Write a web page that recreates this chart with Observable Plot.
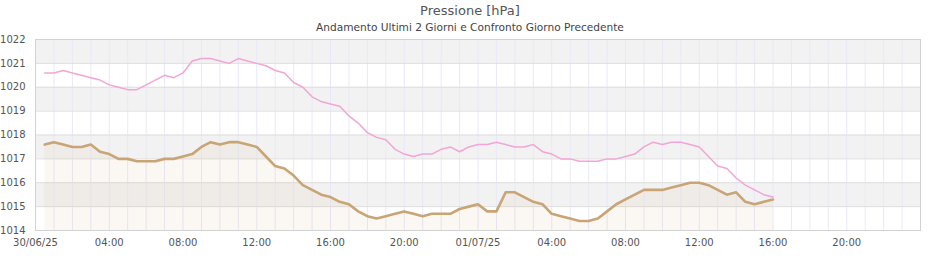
<!DOCTYPE html>
<html>
<head>
<meta charset="utf-8">
<script src="https://cdn.jsdelivr.net/npm/d3@7"></script>
<script src="https://cdn.jsdelivr.net/npm/@observablehq/plot@0.6"></script>
<style>
  html, body { margin: 0; padding: 0; background: #fff; }
  body { width: 940px; height: 260px; overflow: hidden; font-family: "DejaVu Sans", sans-serif; }
  #title { height: 18px; line-height: 21px; font-size: 13px; color: #555; text-align: center; }
  #subtitle { height: 16px; line-height: 18px; font-size: 10.6px; color: #444; text-align: center; }
  svg { display: block; }
</style>
</head>
<body>
<div id="title">Pressione [hPa]</div>
<div id="subtitle">Andamento Ultimi 2 Giorni e Confronto Giorno Precedente</div>
<div id="chart"></div>
<script>
// Time range: 30/06/25 00:00 -> 02/07/25 00:00 (UTC used as local clock)
const domainStart = new Date(Date.UTC(2025, 5, 30, 0, 0));
const domainEnd = new Date(Date.UTC(2025, 6, 2, 0, 0));
const firstSample = new Date(Date.UTC(2025, 5, 30, 0, 30));
const stepMinutes = 30;

// Pressure, last 2 days (hPa), every 30 min from 30/06 00:30 to 01/07 16:00
const pressure = [
  1017.6, 1017.7, 1017.6, 1017.5, 1017.5, 1017.6, 1017.3, 1017.2, 1017.0, 1017.0,
  1016.9, 1016.9, 1016.9, 1017.0, 1017.0, 1017.1, 1017.2, 1017.5, 1017.7, 1017.6,
  1017.7, 1017.7, 1017.6, 1017.5, 1017.1, 1016.7, 1016.6, 1016.3, 1015.9, 1015.7,
  1015.5, 1015.4, 1015.2, 1015.1, 1014.8, 1014.6, 1014.5, 1014.6, 1014.7, 1014.8,
  1014.7, 1014.6, 1014.7, 1014.7, 1014.7, 1014.9, 1015.0, 1015.1, 1014.8, 1014.8,
  1015.6, 1015.6, 1015.4, 1015.2, 1015.1, 1014.7, 1014.6, 1014.5, 1014.4, 1014.4,
  1014.5, 1014.8, 1015.1, 1015.3, 1015.5, 1015.7, 1015.7, 1015.7, 1015.8, 1015.9,
  1016.0, 1016.0, 1015.9, 1015.7, 1015.5, 1015.6, 1015.2, 1015.1, 1015.2, 1015.3
];

// Previous day comparison (hPa), same time slots
const previousDay = [
  1020.6, 1020.6, 1020.7, 1020.6, 1020.5, 1020.4, 1020.3, 1020.1, 1020.0, 1019.9,
  1019.9, 1020.1, 1020.3, 1020.5, 1020.4, 1020.6, 1021.1, 1021.2, 1021.2, 1021.1,
  1021.0, 1021.2, 1021.1, 1021.0, 1020.9, 1020.7, 1020.6, 1020.2, 1020.0, 1019.6,
  1019.4, 1019.3, 1019.2, 1018.8, 1018.5, 1018.1, 1017.9, 1017.8, 1017.4, 1017.2,
  1017.1, 1017.2, 1017.2, 1017.4, 1017.5, 1017.3, 1017.5, 1017.6, 1017.6, 1017.7,
  1017.6, 1017.5, 1017.5, 1017.6, 1017.3, 1017.2, 1017.0, 1017.0, 1016.9, 1016.9,
  1016.9, 1017.0, 1017.0, 1017.1, 1017.2, 1017.5, 1017.7, 1017.6, 1017.7, 1017.7,
  1017.6, 1017.5, 1017.1, 1016.7, 1016.6, 1016.2, 1015.9, 1015.7, 1015.5, 1015.4
];

const yTicks = [1014, 1015, 1016, 1017, 1018, 1019, 1020, 1021, 1022];
const bandLows = [1015, 1017, 1019, 1021];

const rows = pressure.map((v, i) => ({
  t: new Date(firstSample.getTime() + i * stepMinutes * 60000),
  p: v,
  prev: previousDay[i]
}));
const bands = bandLows.map(lo => ({ y1: lo, y2: lo + 1 }));
const hourLines = d3.utcHours(domainStart, domainEnd).slice(1);
const xTicks = d3.utcHours(domainStart, domainEnd, 4);
const fmtDay = d3.utcFormat("%d/%m/%y");
const fmtHour = d3.utcFormat("%H:%M");

const chart = Plot.plot({
  width: 940,
  height: 226,
  marginTop: 5,
  marginBottom: 30,
  marginLeft: 35,
  marginRight: 20,
  style: { fontFamily: "DejaVu Sans, sans-serif", fontSize: "10px", color: "#555", background: "#fff" },
  x: { type: "utc", domain: [domainStart, domainEnd] },
  y: { domain: [1014, 1022] },
  marks: [
    Plot.rect(bands, { x1: () => domainStart, x2: () => domainEnd, y1: "y1", y2: "y2", fill: "#f2f2f2" }),
    Plot.ruleX(hourLines, { stroke: "#e9e8f8", strokeWidth: 1 }),
    Plot.ruleY(yTicks, { stroke: "#dedede", strokeWidth: 1 }),
    Plot.areaY(rows, { x: "t", y1: 1014, y2: "p", fill: "#c9a474", fillOpacity: 0.08 }),
    Plot.lineY(rows, { x: "t", y: "prev", stroke: "#f2a5d6", strokeWidth: 1.5 }),
    Plot.lineY(rows, { x: "t", y: "p", stroke: "#c9a474", strokeWidth: 2.6 }),
    Plot.frame({ stroke: "#d2d2d2" }),
    Plot.axisY(yTicks, { tickSize: 0, tickPadding: 10, label: null, tickFormat: d => String(d), fill: "#555" }),
    Plot.axisX(xTicks, {
      tickSize: 0, tickPadding: 8, label: null, fill: "#555",
      tickFormat: d => (d.getUTCHours() === 0 ? fmtDay(d) : fmtHour(d))
    })
  ]
});
document.getElementById("chart").appendChild(chart);
</script>
</body>
</html>
